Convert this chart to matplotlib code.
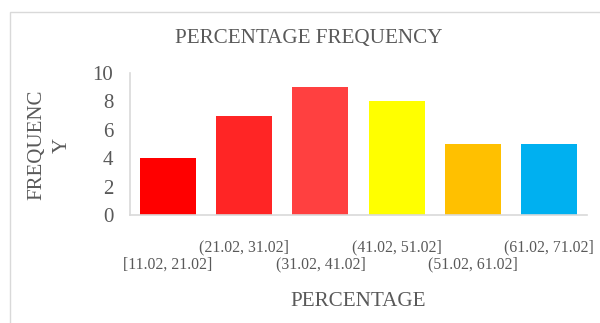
import matplotlib
matplotlib.use("Agg")
import matplotlib.pyplot as plt
from matplotlib.patches import Rectangle

# Frequency of each percentage interval
categories = ["[11.02, 21.02]", "(21.02, 31.02]", "(31.02, 41.02]",
              "(41.02, 51.02]", "(51.02, 61.02]", "(61.02, 71.02]"]
frequencies = [4, 7, 9, 8, 5, 5]
bar_colors = ["#FF0000", "#FF2525", "#FF4040", "#FFFF00", "#FFC000", "#00B0F0"]
y_ticks = [0, 2, 4, 6, 8, 10]

TEXT = "#595959"
GRID = "#D9D9D9"
W, H = 600, 323

plt.rcParams["font.family"] = ["Liberation Serif", "DejaVu Serif"]

fig = plt.figure(figsize=(W / 100, H / 100), dpi=100)
fig.patch.set_facecolor("white")

# chart-area border (continues past the right and bottom edges)
fig.patches.append(Rectangle((10 / W, -0.1), 1.2, (H - 12) / H + 0.1,
                             transform=fig.transFigure, fill=False,
                             edgecolor=GRID, linewidth=1.0))

ax = fig.add_axes([130 / W, (H - 215) / H, (587 - 130) / W, (215 - 73) / H])
x = range(len(categories))
ax.bar(x, frequencies, width=0.735, color=bar_colors, zorder=2)

ax.set_xlim(-0.5, len(categories) - 0.5)
ax.set_ylim(0, 10)
ax.set_yticks(y_ticks)
ax.set_yticklabels([str(v) for v in y_ticks], fontsize=15, color=TEXT)
ax.set_xticks(list(x))
ax.set_xticklabels(categories, fontsize=11.3, color=TEXT)

ax.tick_params(axis="both", length=0)
ax.tick_params(axis="y", pad=12)
# stagger the interval labels on two rows
for i, tick in enumerate(ax.xaxis.get_major_ticks()):
    tick.set_pad(17.5 if i % 2 else 30)

for side in ("top", "right"):
    ax.spines[side].set_visible(False)
for side in ("left", "bottom"):
    ax.spines[side].set_color(GRID)
    ax.spines[side].set_linewidth(1.2)

fig.text(308.5 / W, 1 - 39 / H, "PERCENTAGE FREQUENCY", fontsize=15.2,
         color=TEXT, ha="center", va="center")
fig.text(358.5 / W, 1 - 301 / H, "PERCENTAGE", fontsize=15.2,
         color=TEXT, ha="center", va="center")
fig.text(50 / W, 1 - 145 / H, "FREQUENC\nY", fontsize=15, color=TEXT,
         rotation=90, ha="center", va="center", multialignment="center",
         linespacing=1.45)

fig.savefig("out.png", dpi=100, facecolor="white")
